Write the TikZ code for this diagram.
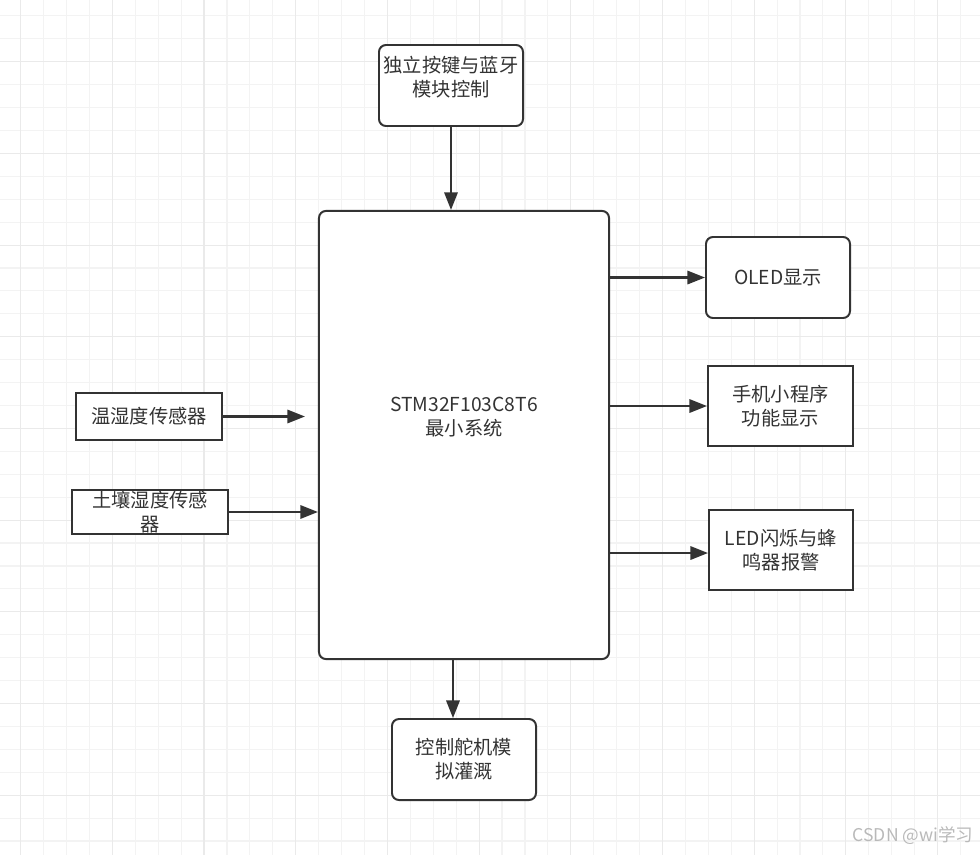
\documentclass[tikz,border=0pt]{standalone}
\usepackage{fontspec}
\setmainfont{Noto Sans CJK SC}
\usepackage{tikz}
\usetikzlibrary{arrows.meta, calc}
\definecolor{BoxLine}{RGB}{51,51,51}
\definecolor{TextGray}{RGB}{51,51,51}
\definecolor{GridMinor}{RGB}{243,243,243}
\definecolor{GridMajor}{RGB}{234,234,234}
\definecolor{MarkGray}{RGB}{185,185,185}

\begin{document}
\begin{tikzpicture}[x=0.025cm, y=-0.025cm,
      blk/.style={rectangle, draw=BoxLine, line width=1.4pt, fill=white,
                  minimum width=3.6cm, minimum height=2.025cm, align=center,
                  text=TextGray, font=\fontsize{13.7pt}{17pt}\selectfont},
      rblk/.style={blk, rounded corners=5pt},
      lbl/.style={align=center, text=TextGray, font=\fontsize{13.7pt}{17pt}\selectfont},
      arr/.style={-{Triangle[length=12.5pt, width=9.5pt]}, draw=BoxLine, line width=1.5pt}
    ]
    \useasboundingbox (0,0) rectangle (980,855);

    % grid
    \foreach \k in {-1,...,42}
      \draw[GridMinor, line width=0.8pt] ({20.7+22.92*\k},0) -- ({20.7+22.92*\k},855);
    \foreach \k in {0,...,38}
      \draw[GridMinor, line width=0.8pt] (0,{-7.06+22.92*\k}) -- (980,{-7.06+22.92*\k});
    \foreach \k in {0,...,10}
      \draw[GridMajor, line width=0.8pt] ({20.7+91.68*\k},0) -- ({20.7+91.68*\k},855);
    \foreach \k in {-1,...,8}
      \draw[GridMajor, line width=0.8pt] (0,{61.7+91.68*\k}) -- (980,{61.7+91.68*\k});

    \node[rblk]                                        (keys) at (451, 85.5) {};
    \node[lbl] at ([yshift=0.2cm]keys.center) {独立按键与蓝牙\\模块控制};

    \node[rblk, minimum width=7.25cm, minimum height=11.2cm] (mcu) at (464, 435) {};
    \node[lbl] at ([yshift=0.44cm]mcu.center) {STM32F103C8T6\\最小系统};

    \node[rblk]                                        (oled) at (778, 277.5) {OLED显示};
    \node[blk, minimum width=3.625cm, minimum height=2cm] (app) at (780.5, 406) {手机小程序\\功能显示};
    \node[blk, minimum height=2cm]                     (led)  at (781, 550)   {LED闪烁与蜂\\鸣器报警};

    \node[blk, minimum width=3.65cm, minimum height=1.175cm] (th) at (149, 416.5) {温湿度传感器};
    \node[blk, minimum width=3.9cm, minimum height=1.1cm, inner ysep=0pt]
                                                      (soil) at (150, 512)   {土壤湿度传感\\器};

    \node[rblk]                                        (pump) at (464, 759.5) {控制舵机模\\拟灌溉};

    \draw[arr] (keys.south) -- (keys.south |- mcu.north);
    \draw[arr] (mcu.east |- oled.west) -- (oled.west);
    \draw[arr] (mcu.east |- app.west)  -- (app.west);
    \draw[arr] ([yshift=-0.075cm]mcu.east |- led.west) -- ([yshift=-0.075cm]led.west);
    \draw[arr] (th.east) -- ([xshift=-0.325cm]mcu.west |- th.east);
    \draw[arr] (soil.east) -- (mcu.west |- soil.east);
    \draw[arr] ([xshift=-0.275cm]mcu.south) -- ([xshift=-0.275cm]mcu.south |- pump.north);

    \node[font=\fontsize{12.5pt}{14pt}\selectfont, text=MarkGray] (mark) at (913, 836) {CSDN @wi学习};
  \end{tikzpicture}
\end{document}
